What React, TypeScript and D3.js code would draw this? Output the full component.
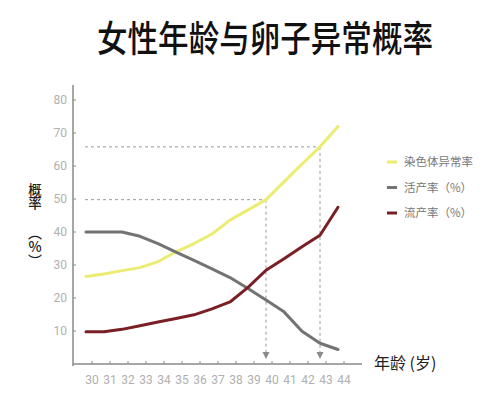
import React from "react";
import * as d3 from "d3";

const ages = [30, 31, 32, 33, 34, 35, 36, 37, 38, 39, 40, 41, 42, 43, 44];
const chromosomeAbnormal = [26.5, 27.3, 28.3, 29.2, 31, 34, 36.5, 39.4, 43.6, 46.7, 49.8, 55.2, 60.6, 65.8, 72];
const liveBirth = [40, 40, 40, 38.7, 36.5, 33.9, 31.4, 28.8, 26.2, 22.9, 19.4, 15.8, 9.9, 6.3, 4.4];
const miscarriage = [9.8, 9.8, 10.5, 11.6, 12.7, 13.8, 14.9, 16.7, 18.8, 23.2, 28.4, 31.9, 35.5, 39, 47.5];
const yTicks = [10, 20, 30, 40, 50, 60, 70, 80];
const seriesNames = ["染色体异常率", "活产率（%）", "流产率（%）"];
const seriesColors = ["#ecec72", "#737373", "#7a1f24"];
const markers = [
  { age: 40, value: 49.8 },
  { age: 43, value: 65.8 },
];

const W = 500;
const H = 400;

export default function App() {
  const x = d3.scaleLinear().domain([30, 44]).range([92, 344]);
  const seriesShift = -6;
  const y = d3.scaleLinear().domain([0, 80]).range([364, 100]);
  const line = d3
    .line<number>()
    .x((_, i) => x(ages[i]) + seriesShift)
    .y((d) => y(d))
    .curve(d3.curveLinear);
  const allSeries = [chromosomeAbnormal, liveBirth, miscarriage];
  const axisColor = "#8a8a8a";
  const tickFont = "'Liberation Sans Narrow', 'Roboto', 'Liberation Sans', sans-serif";
  const cjk = "'Noto Sans CJK SC', sans-serif";
  const x0 = 73;
  const dashLeft = 85;
  const arrowY = 356;
  const vertical: React.CSSProperties = { writingMode: "vertical-rl", textOrientation: "upright" } as any;

  return (
    <svg width={W} height={H} style={{ position: "fixed", left: 0, top: 0, background: "#fff" }}>
      <rect x={0} y={0} width={W} height={H} fill="#fff" />
      {/* title */}
      <text
        x={265}
        y={52}
        textAnchor="middle"
        fontFamily={cjk}
        fontSize={36}
        fontWeight={500}
        fill="#111"
        textLength={336}
        lengthAdjust="spacingAndGlyphs"
      >
        女性年龄与卵子异常概率
      </text>

      {/* dashed reference lines */}
      {markers.map((m, i) => {
        const mx = x(m.age) + seriesShift;
        const my = y(m.value);
        return (
          <g key={i} stroke="#9a9a9a" strokeWidth={1} strokeDasharray="3,3" fill="none">
            <line x1={dashLeft} x2={mx} y1={my} y2={my} />
            <line x1={mx} x2={mx} y1={my} y2={arrowY - 3} />
            <path
              d={`M${mx - 3.5},${arrowY - 4} L${mx + 3.5},${arrowY - 4} L${mx},${arrowY + 3} Z`}
              fill="#8a8a8a"
              stroke="none"
            />
          </g>
        );
      })}

      {/* axes */}
      <line x1={x0} x2={x0} y1={85} y2={366} stroke={axisColor} strokeWidth={1.5} />
      <line x1={x0} x2={362} y1={y(0)} y2={y(0)} stroke={axisColor} strokeWidth={1.5} />
      {yTicks.map((t) => (
        <g key={t}>
          <line x1={x0} x2={x0 + 3} y1={y(t)} y2={y(t)} stroke={axisColor} strokeWidth={1} />
          <text
            x={67}
            y={y(t)}
            dy="0.35em"
            textAnchor="end"
            fontFamily={tickFont}
            fontSize={12}
            fill="#b0b0b0"
          >
            {t}
          </text>
        </g>
      ))}
      {ages.map((a) => (
        <g key={a}>
          <line x1={x(a)} x2={x(a)} y1={y(0) - 3} y2={y(0)} stroke={axisColor} strokeWidth={1} />
          <text
            x={x(a)}
            y={380}
            dy="0.35em"
            textAnchor="middle"
            fontFamily={tickFont}
            fontSize={12}
            fill="#b0b0b0"
          >
            {a}
          </text>
        </g>
      ))}

      {/* series */}
      {allSeries.map((s, i) => (
        <path
          key={i}
          d={line(s) || ""}
          fill="none"
          stroke={seriesColors[i]}
          strokeWidth={3}
          strokeLinejoin="round"
          strokeLinecap="round"
        />
      ))}

      {/* axis titles */}
      <text x={374} y={369} fontFamily={cjk} fontSize={16} fill="#222">
        年龄 (岁)
      </text>
      <text x={35} y={183} fontFamily={cjk} fontSize={13.5} fontWeight={500} fill="#222" style={vertical}>
        概率
      </text>
      <text x={35} y={226} fontFamily={cjk} fontSize={14} fontWeight={500} fill="#222" style={vertical}>
        （%）
      </text>

      {/* legend */}
      {seriesNames.map((n, i) => {
        const ly = 162 + i * 25.5;
        return (
          <g key={n}>
            <line x1={387} x2={397} y1={ly} y2={ly} stroke={seriesColors[i]} strokeWidth={3} />
            <text x={404} y={ly} dy="0.35em" fontFamily={cjk} fontSize={11.5} fill="#777">
              {n}
            </text>
          </g>
        );
      })}
    </svg>
  );
}
